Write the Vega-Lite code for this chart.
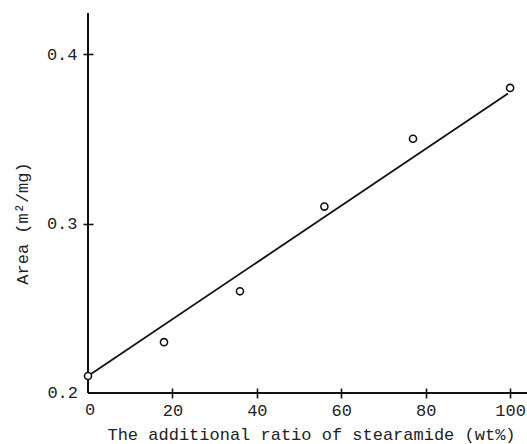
{
  "$schema": "https://vega.github.io/schema/vega-lite/v6.json",
  "width": 439,
  "height": 380,
  "autosize": {"type": "none"},
  "padding": {"left": 88, "top": 13, "right": 0, "bottom": 51},
  "background": "white",
  "config": {
    "view": {"stroke": null},
    "font": "Liberation Mono",
    "axis": {
      "grid": false,
      "domain": false,
      "offset": -5,
      "tickSize": 10,
      "tickColor": "#111",
      "tickWidth": 1.6,
      "labelFont": "Liberation Mono",
      "labelFontSize": 17,
      "labelColor": "#222",
      "titleFont": "Liberation Mono",
      "titleFontSize": 17,
      "titleFontWeight": "normal",
      "titleColor": "#222"
    }
  },
  "datasets": {
    "points": [
      {"ratio": 0, "area": 0.21},
      {"ratio": 18, "area": 0.23},
      {"ratio": 36, "area": 0.26},
      {"ratio": 56, "area": 0.31},
      {"ratio": 77, "area": 0.35},
      {"ratio": 100, "area": 0.38}
    ],
    "fit": [
      {"ratio": 0, "area": 0.21},
      {"ratio": 99.5, "area": 0.3767}
    ]
  },
  "layer": [
    {
      "data": {"name": "fit"},
      "mark": {"type": "line", "color": "#111", "strokeWidth": 1.8},
      "encoding": {
        "x": {
          "field": "ratio",
          "type": "quantitative",
          "scale": {"domain": [0, 104], "nice": false, "zero": false},
          "axis": {
            "values": [20, 40, 60, 80, 100],
            "labelPadding": 4,
            "title": "The additional ratio of stearamide (wt%)",
            "titleX": 223,
            "titleY": 46,
            "titleBaseline": "middle"
          }
        },
        "y": {
          "field": "area",
          "type": "quantitative",
          "scale": {"domain": [0.2, 0.4242], "nice": false, "zero": false},
          "axis": {
            "values": [0.3, 0.4],
            "format": ".1f",
            "labelPadding": 6,
            "title": "Area (m²/mg)",
            "titleX": -71,
            "titleY": 210,
            "titleBaseline": "middle"
          }
        }
      }
    },
    {
      "data": {"values": [{"v": 0}]},
      "mark": {"type": "rule", "color": "#111", "strokeWidth": 2},
      "encoding": {"x": {"datum": 0, "type": "quantitative"}}
    },
    {
      "data": {"values": [{"v": 0.2}]},
      "mark": {"type": "rule", "color": "#111", "strokeWidth": 2},
      "encoding": {"y": {"datum": 0.2, "type": "quantitative"}}
    },
    {
      "data": {"values": [{"t": "0.2"}]},
      "mark": {"type": "text", "font": "Liberation Mono", "fontSize": 17, "color": "#222", "align": "right", "baseline": "middle", "dx": -10},
      "encoding": {
        "x": {"datum": 0, "type": "quantitative"},
        "y": {"datum": 0.2, "type": "quantitative"},
        "text": {"field": "t"}
      }
    },
    {
      "data": {"values": [{"t": "0"}]},
      "mark": {"type": "text", "font": "Liberation Mono", "fontSize": 17, "color": "#222", "align": "center", "baseline": "top", "dy": 9, "dx": 2},
      "encoding": {
        "x": {"datum": 0, "type": "quantitative"},
        "y": {"datum": 0.2, "type": "quantitative"},
        "text": {"field": "t"}
      }
    },
    {
      "data": {"name": "points"},
      "mark": {"type": "point", "shape": "circle", "filled": true, "fill": "white", "stroke": "#111", "strokeWidth": 1.6, "size": 50, "opacity": 1},
      "encoding": {
        "x": {"field": "ratio", "type": "quantitative"},
        "y": {"field": "area", "type": "quantitative"}
      }
    }
  ]
}
